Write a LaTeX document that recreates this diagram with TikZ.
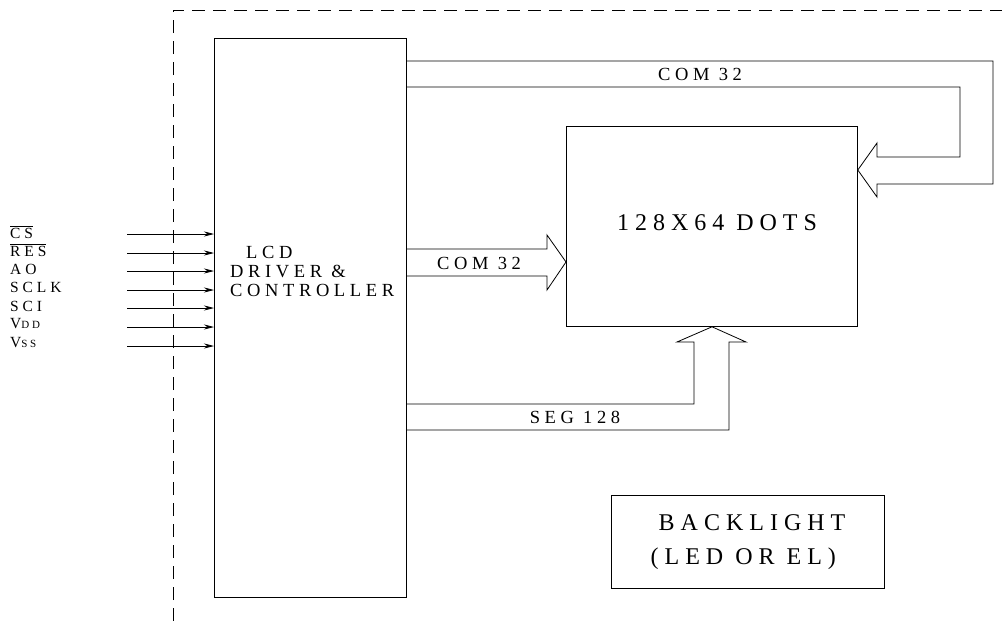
\documentclass[tikz,border=0pt]{standalone}
\usepackage{fontspec}
\setmainfont{Liberation Serif}
\newfontfamily\spaced[LetterSpace=25]{Liberation Serif}
\usetikzlibrary{arrows.meta, positioning, calc}

\begin{document}
\begin{tikzpicture}[x=1pt, y=-1pt, >={Stealth[length=10pt, width=5pt]},
    blk/.style={draw, line width=0.8pt, inner sep=0pt, anchor=north west},
    bus/.style={draw, line width=0.8pt, line join=miter},
    sig/.style={font=\spaced\fontsize{15.5}{15.5}\selectfont, inner sep=0pt, anchor=west},
    txt/.style={font=\spaced\fontsize{18.5}{19}\selectfont, inner sep=0pt}]

  \useasboundingbox (0,0) rectangle (1002,621);

  % Module outline
  \draw[line width=0.8pt, dash pattern=on 13pt off 8pt] (173,621) -- (173,10) -- (1002,10);

  % Blocks
  \node[blk, minimum width=192, minimum height=559] (ctrl) at (214,38) {};
  \node[blk, minimum width=291, minimum height=200] (dots) at (566,126) {};
  \node[blk, minimum width=273, minimum height=93] (bl) at (611,495) {};

  % Block texts
  \node[txt, anchor=north west, align=left] (ctrltxt) at (230,246)
    {\hspace*{16pt}LCD\\DRIVER \&\\CONTROLLER};
  \node[txt, font=\spaced\fontsize{24}{24}\selectfont] (dotstxt) at (717,223) {128X64 DOTS};
  \node[txt, font=\spaced\fontsize{24}{34}\selectfont, align=left] (bltxt) at (748,542)
    {\hspace*{8pt}BACKLIGHT\\(LED OR EL)};

  % Interface signals
  \node[sig] (cs) at (10,232) {$\overline{\hbox{\spaced CS}}$};
  \node[sig] (res) at (10,250) {$\overline{\hbox{\spaced RES}}$};
  \node[sig] (ao) at (10,269) {AO};
  \node[sig] (sclk) at (10,287) {SCLK};
  \node[sig] (sci) at (10,306) {SCI};
  \node[sig] (vdd) at (10,324) {V{\fontsize{11}{11}\selectfont DD}};
  \node[sig] (vss) at (10,343) {V{\fontsize{11}{11}\selectfont SS}};

  \coordinate (in1) at (127,234);
  \coordinate (in2) at (127,253);
  \coordinate (in3) at (127,271);
  \coordinate (in4) at (127,290);
  \coordinate (in5) at (127,308);
  \coordinate (in6) at (127,327);
  \coordinate (in7) at (127,346);
  \draw[->, line width=0.8pt] (in1) -- (in1 -| ctrl.west);
  \draw[->, line width=0.8pt] (in2) -- (in2 -| ctrl.west);
  \draw[->, line width=0.8pt] (in3) -- (in3 -| ctrl.west);
  \draw[->, line width=0.8pt] (in4) -- (in4 -| ctrl.west);
  \draw[->, line width=0.8pt] (in5) -- (in5 -| ctrl.west);
  \draw[->, line width=0.8pt] (in6) -- (in6 -| ctrl.west);
  \draw[->, line width=0.8pt] (in7) -- (in7 -| ctrl.west);

  % COM 32 (upper half), round the top to the right side of the panel
  \draw[bus] (ctrl.east |- 0,61) -- (993,61) -- (993,184) -- (877,184) -- (877,197)
    -- (dots.east |- 0,170) -- (877,143) -- (877,157) -- (960,157) -- (960,87)
    -- (ctrl.east |- 0,87);
  \node[txt] (com1) at (700,74) {COM 32};

  % COM 32 (lower half)
  \draw[bus] (ctrl.east |- 0,249) -- (547,249) -- (547,235) -- (dots.west |- 0,262)
    -- (547,290) -- (547,276) -- (ctrl.east |- 0,276);
  \node[txt] (com2) at (479,263) {COM 32};

  % SEG 128
  \draw[bus] (ctrl.east |- 0,404) -- (694,404) -- (694,342) -- (677,342)
    -- (dots.south west -| 712,0) -- (746,342) -- (729,342) -- (729,430)
    -- (ctrl.east |- 0,430);
  \node[txt] (seg) at (575,417) {SEG 128};
\end{tikzpicture}
\end{document}
